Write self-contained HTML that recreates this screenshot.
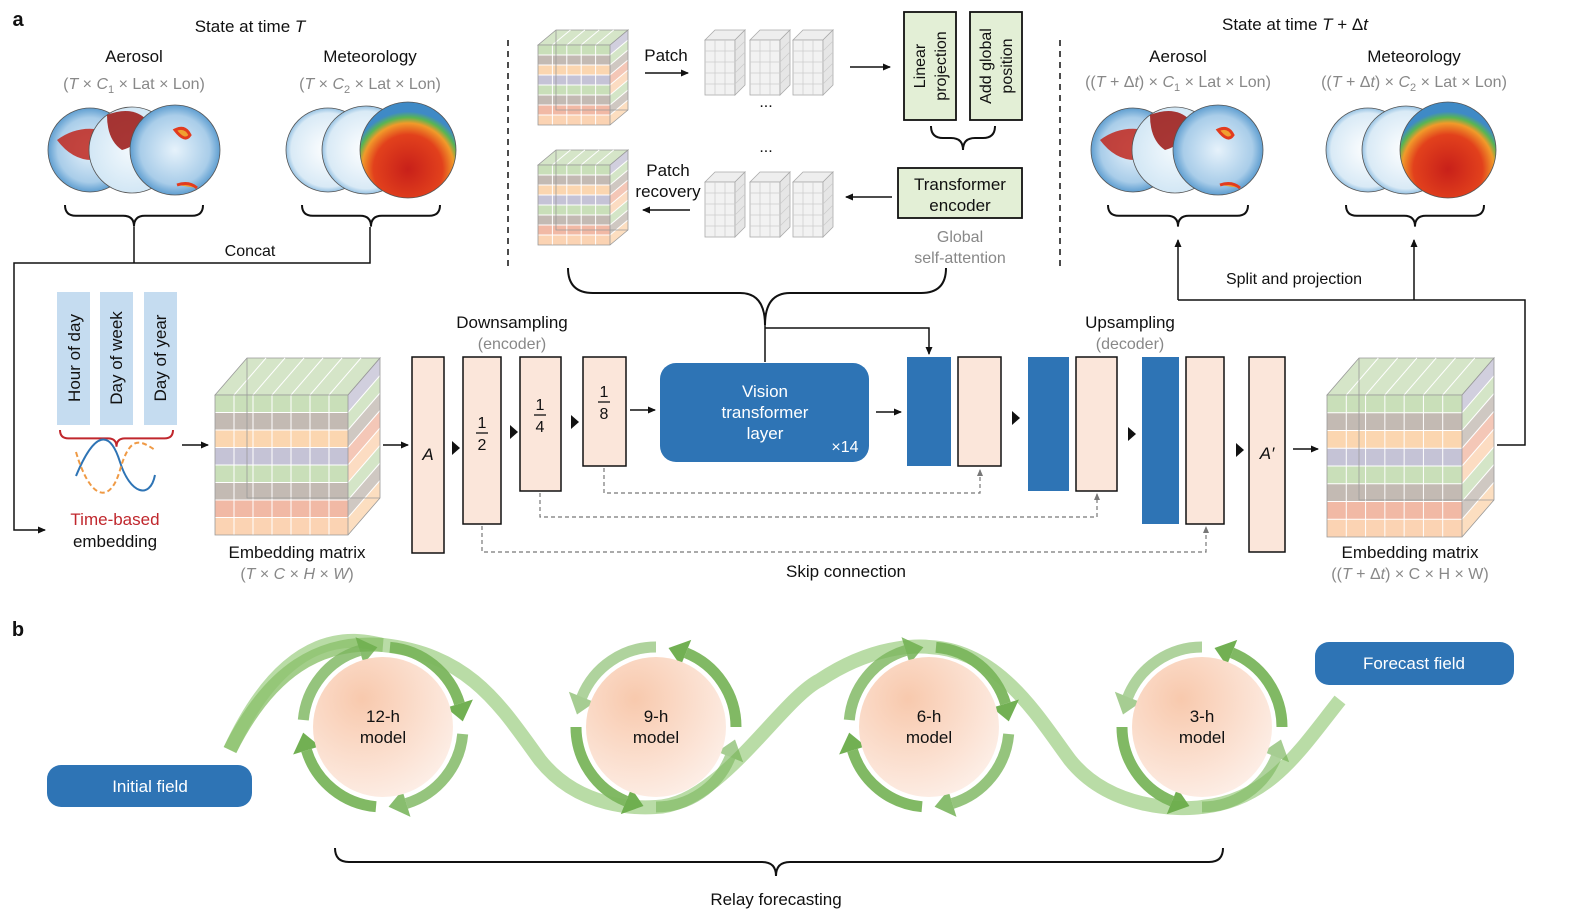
<!DOCTYPE html>
<html><head><meta charset="utf-8"><style>
html,body{margin:0;padding:0;background:#fff}
svg{display:block;font-family:"Liberation Sans",Arial,sans-serif}
</style></head><body>
<svg id="s" width="1571" height="922" viewBox="0 0 1571 922" xmlns="http://www.w3.org/2000/svg">
<defs>
<marker id="ar" markerWidth="8" markerHeight="8" refX="7" refY="4" orient="auto" markerUnits="userSpaceOnUse"><path d="M0,0.5 L8,4 L0,7.5 z" fill="#111"/></marker>
<marker id="arg" markerWidth="7" markerHeight="7" refX="6" refY="3.5" orient="auto" markerUnits="userSpaceOnUse"><path d="M0,0.5 L7,3.5 L0,6.5 z" fill="#777"/></marker>
<radialGradient id="peach" cx="35%" cy="30%" r="75%"><stop offset="0" stop-color="#f8c9ad"/><stop offset="1" stop-color="#fdeee6"/></radialGradient>
<radialGradient id="aer" cx="50%" cy="50%" r="55%"><stop offset="0" stop-color="#e6f2fb"/><stop offset="0.7" stop-color="#a9cde9"/><stop offset="1" stop-color="#3f8ac6"/></radialGradient>
<radialGradient id="aer2" cx="50%" cy="50%" r="55%"><stop offset="0" stop-color="#f3f9fd"/><stop offset="1" stop-color="#cfe5f4"/></radialGradient>
<radialGradient id="met" cx="50%" cy="70%" r="60%"><stop offset="0" stop-color="#c8201a"/><stop offset="0.6" stop-color="#e2411c"/><stop offset="0.8" stop-color="#f19a2a"/><stop offset="0.9" stop-color="#59b552"/><stop offset="1" stop-color="#3f8ac6"/></radialGradient>
<radialGradient id="metw" cx="50%" cy="50%" r="55%"><stop offset="0" stop-color="#ffffff"/><stop offset="0.8" stop-color="#d9eaf6"/><stop offset="1" stop-color="#5c9fd2"/></radialGradient>
</defs>
<g id="g"></g>
</svg>
<script>
const g=document.getElementById('g');let h='';
const T=(x,y,t,o={})=>{h+=`<text x="${x}" y="${y}" font-size="${o.s||16}" fill="${o.c||'#111'}" text-anchor="${o.a||'middle'}" ${o.w?'font-weight="bold"':''} ${o.st?'font-style="italic"':''} ${o.tr?`transform="${o.tr}"`:''}>${t}</text>`};
const L=(d,o={})=>{h+=`<path d="${d}" fill="none" stroke="${o.c||'#111'}" stroke-width="${o.w||1.5}" ${o.da?`stroke-dasharray="${o.da}"`:''} ${o.m?`marker-end="url(#${o.m})"`:''}/>`};
const R=(x,y,w,hh,f,o={})=>{h+=`<rect x="${x}" y="${y}" width="${w}" height="${hh}" rx="${o.rx||0}" fill="${f}" stroke="${o.s||'none'}" stroke-width="${o.sw||1.5}"/>`};
T(18,26,'a',{w:1,s:20});T(18,636,'b',{w:1,s:20});
T(250,32,'State at time <tspan font-style="italic">T</tspan>',{s:17});
T(134,62,'Aerosol',{s:17});T(370,62,'Meteorology',{s:17});
T(134,89,'(<tspan font-style="italic">T</tspan> × <tspan font-style="italic">C</tspan><tspan font-size="11" dy="4">1</tspan><tspan dy="-4"> × Lat × Lon)</tspan>',{s:16,c:'#888'});
T(370,89,'(<tspan font-style="italic">T</tspan> × <tspan font-style="italic">C</tspan><tspan font-size="11" dy="4">2</tspan><tspan dy="-4"> × Lat × Lon)</tspan>',{s:16,c:'#888'});
T(1295,30,'State at time <tspan font-style="italic">T</tspan> + Δ<tspan font-style="italic">t</tspan>',{s:17});
T(1178,62,'Aerosol',{s:17});T(1414,62,'Meteorology',{s:17});
T(1178,87,'((<tspan font-style="italic">T</tspan> + Δ<tspan font-style="italic">t</tspan>) × <tspan font-style="italic">C</tspan><tspan font-size="11" dy="4">1</tspan><tspan dy="-4"> × Lat × Lon)</tspan>',{s:16,c:'#888'});
T(1414,87,'((<tspan font-style="italic">T</tspan> + Δ<tspan font-style="italic">t</tspan>) × <tspan font-style="italic">C</tspan><tspan font-size="11" dy="4">2</tspan><tspan dy="-4"> × Lat × Lon)</tspan>',{s:16,c:'#888'});
function globe(cx,cy,r,f){h+=`<circle cx="${cx}" cy="${cy}" r="${r}" fill="url(#${f})" stroke="#555" stroke-width="0.8"/>`}
function aero(x){globe(x+43,150,42,'aer');h+=`<path d="M${x+10},140 q20,-15 45,-10 q10,20 -10,30 q-20,0 -35,-20z" fill="#c0271d" opacity=".85"/>`;globe(x+85,150,43,'aer2');h+=`<path d="M${x+60},115 q25,-10 40,5 q-5,25 -25,30 q-15,-10 -15,-35z" fill="#9b1410" opacity=".85"/>`;globe(x+128,150,45,'aer');h+=`<path d="M${x+128},130 q10,-5 15,5 q-5,8 -15,-5z M${x+130},185 q12,-4 20,3" stroke="#e23b1e" stroke-width="3" fill="#f0a030"/>`}
function meteo(x){globe(x+40,150,42,'metw');globe(x+78,150,44,'metw');globe(x+120,150,48,'met')}
aero(47);meteo(288);aero(1090);meteo(1328);
function brace(x1,x2,y,d,col,w){const m=(x1+x2)/2;L(`M${x1},${y} q0,${d*0.6} ${d*0.6},${d*0.6} L${m-d*0.6},${y+d*0.6} q${d*0.6},0 ${d*0.6},${d*0.6} q0,${-d*0.6} ${d*0.6},${-d*0.6} L${x2-d*0.6},${y+d*0.6} q${d*0.6},0 ${d*0.6},${-d*0.6}`,{c:col||'#111',w:w||2})}
brace(65,203,205,18);brace(302,440,205,18);
brace(1108,1248,205,18);brace(1346,1484,205,18);
L('M134,227 V263');L('M370,227 V263 H14 V530 H45',{m:'ar'});
T(250,256,'Concat',{s:16});
L('M1178,300 V240',{m:'ar'});L('M1414,300 V240',{m:'ar'});L('M1178,300 H1525 V445 H1497');
T(1294,284,'Split and projection',{s:16});
L('M508,40 V268',{da:'6,5'});L('M1060,40 V268',{da:'6,5'});
const rows=['#c9dfb9','#c3bab3','#fbd6b0','#c5c3d6','#c9dfb9','#c3bab3','#f1b9a5','#fbd3b3'];
function cube(x,y,w,hh,dx,dy,cols){const n=rows.length,rh=hh/n;
 h+=`<path d="M${x},${y} l${dx},${-dy} h${w} l${-dx},${dy}z" fill="#d5e5c8" stroke="#999" stroke-width=".8"/>`;
 for(let i=0;i<n;i++){h+=`<rect x="${x}" y="${y+i*rh}" width="${w}" height="${rh}" fill="${rows[i]}"/>`;
  h+=`<path d="M${x+w},${y+i*rh} l${dx},${-dy} v${rh} l${-dx},${dy}z" fill="${rows[(i+3)%n]}" opacity=".8"/>`;}
 for(let j=1;j<cols;j++){h+=`<path d="M${x+w*j/cols},${y} v${hh} M${x+w*j/cols},${y} l${dx},${-dy}" stroke="#fff" stroke-width="1"/>`;}
 for(let i=1;i<n;i++){h+=`<path d="M${x},${y+i*rh} h${w} l${dx},${-dy}" stroke="#fff" stroke-width="1" fill="none"/>`;}
 h+=`<path d="M${x},${y} h${w} v${hh} h${-w}z M${x+w},${y} l${dx},${-dy} v${hh} l${-dx},${dy} M${x+dx},${y-dy} v${hh} h${w}" fill="none" stroke="#999" stroke-width=".8"/>`;}
cube(215,395,133,140,32,37,7);cube(1327,395,135,142,32,37,7);
cube(538,45,72,80,18,15,5);cube(538,165,72,80,18,15,5);
function wire(x,y){const w=30,hh=55,d=10;h+=`<path d="M${x},${y} l${d},${-d} h${w} l${-d},${d}z" fill="#eee" stroke="#aaa" stroke-width=".8"/><rect x="${x}" y="${y}" width="${w}" height="${hh}" fill="#f2f2f2" stroke="#aaa" stroke-width=".8"/><path d="M${x+w},${y} l${d},${-d} v${hh} l${-d},${d}z" fill="#e6e6e6" stroke="#aaa" stroke-width=".8"/>`;
 for(let i=1;i<5;i++)h+=`<path d="M${x},${y+i*11} h${w} l${d},${-d}" stroke="#ccc" stroke-width=".7" fill="none"/>`;
 for(let j=1;j<3;j++)h+=`<path d="M${x+j*10},${y} v${hh}" stroke="#ccc" stroke-width=".7"/>`;}
[705,750,793].forEach(x=>{wire(x,40);wire(x,182)});
T(766,107,'...',{s:16});T(766,152,'...',{s:16});
T(666,61,'Patch',{s:17});L('M645,73 H688',{m:'ar'});
T(668,176,'Patch',{s:17});T(668,197,'recovery',{s:17});L('M690,210 H643',{m:'ar'});
L('M850,67 H890',{m:'ar'});
R(904,12,52,108,'#e3efd6',{s:'#111',sw:1.8});R(970,12,52,108,'#e3efd6',{s:'#111',sw:1.8});
T(0,0,'Linear',{s:16,tr:'translate(925,66) rotate(-90)'});T(0,0,'projection',{s:16,tr:'translate(946,66) rotate(-90)'});
T(0,0,'Add global',{s:16,tr:'translate(991,66) rotate(-90)'});T(0,0,'position',{s:16,tr:'translate(1012,66) rotate(-90)'});
L('M931,126 q0,12 12,12 h8 q12,0 12,12 q0,-12 12,-12 h8 q12,0 12,-12',{w:2});
R(898,168,124,50,'#e3efd6',{s:'#111',sw:1.8});T(960,190,'Transformer',{s:17});T(960,211,'encoder',{s:17});
L('M892,197 H846',{m:'ar'});
T(960,242,'Global',{s:16,c:'#888'});T(960,263,'self-attention',{s:16,c:'#888'});
L('M568,268 q0,25 25,25 L740,293 q25,0 25,32 q0,-32 25,-32 L921,293 q25,0 25,-25',{w:2});
L('M765,325 V362');L('M765,328 H929 V354',{m:'ar'});
[57,100,144].forEach(x=>R(x,292,33,133,'#c5dcf0'));
T(0,0,'Hour of day',{s:17,tr:'translate(80,358) rotate(-90)'});T(0,0,'Day of week',{s:17,tr:'translate(122,358) rotate(-90)'});T(0,0,'Day of year',{s:17,tr:'translate(166,358) rotate(-90)'});
brace(60,173,430,14,'#c0272d',2);
L('M76,476 C95,430 110,430 120,462 S150,500 155,475',{c:'#2e74b5',w:2});
L('M76,452 C90,500 110,505 120,470 S140,440 155,450',{c:'#ef9a45',w:2,da:'5,3'});
T(115,525,'Time-based',{s:17,c:'#c0272d'});T(115,547,'embedding',{s:17});
L('M182,445 H208',{m:'ar'});
T(297,558,'Embedding matrix',{s:17});T(297,579,'(<tspan font-style="italic">T</tspan> × <tspan font-style="italic">C</tspan> × <tspan font-style="italic">H</tspan> × <tspan font-style="italic">W</tspan>)',{s:16,c:'#888'});
T(1410,558,'Embedding matrix',{s:17});T(1410,579,'((<tspan font-style="italic">T</tspan> + Δ<tspan font-style="italic">t</tspan>) × C × H × W)',{s:16,c:'#888'});
const pe='#fbe6da';
L('M383,445 H408',{m:'ar'});
R(412,357,32,196,pe,{s:'#111'});T(428,460,'<tspan font-style="italic">A</tspan>',{s:17});
R(463,357,38,167,pe,{s:'#111'});R(520,357,41,134,pe,{s:'#111'});R(583,357,43,109,pe,{s:'#111'});
function frac(x,y,d){T(x,y-4,'1',{s:16});L(`M${x-6},${y+1} H${x+6}`,{w:1.3});T(x,y+18,d,{s:16})}
frac(482,432,'2');frac(540,414,'4');frac(604,401,'8');
const tri=(x,y)=>{h+=`<path d="M${x},${y-7} L${x+8},${y} L${x},${y+7}z" fill="#111"/>`};
tri(452,448);tri(510,432);tri(571,422);tri(1012,418);tri(1128,434);tri(1236,450);
L('M630,410 H655',{m:'ar'});
R(660,363,209,99,'#2e74b5',{rx:16});T(765,397,'Vision',{s:17,c:'#fff'});T(765,418,'transformer',{s:17,c:'#fff'});T(765,439,'layer',{s:17,c:'#fff'});T(845,452,'×14',{s:16,c:'#fff'});
L('M876,412 H901',{m:'ar'});
R(907,357,44,109,'#2e74b5');R(958,357,43,109,pe,{s:'#111'});
R(1028,357,41,134,'#2e74b5');R(1076,357,41,134,pe,{s:'#111'});
R(1142,357,37,167,'#2e74b5');R(1186,357,38,167,pe,{s:'#111'});
R(1249,357,36,195,pe,{s:'#111'});T(1267,459,'<tspan font-style="italic">A′</tspan>',{s:17});
L('M1293,449 H1318',{m:'ar'});
L('M604,468 V493 H980 V470',{c:'#777',w:1.2,da:'4,3',m:'arg'});
L('M540,493 V517 H1097 V494',{c:'#777',w:1.2,da:'4,3',m:'arg'});
L('M482,526 V552 H1206 V527',{c:'#777',w:1.2,da:'4,3',m:'arg'});
T(512,328,'Downsampling',{s:17});T(512,349,'(encoder)',{s:16,c:'#888'});
T(1130,328,'Upsampling',{s:17});T(1130,349,'(decoder)',{s:16,c:'#888'});
T(846,577,'Skip connection',{s:17});
L('M230,750 C290,620 360,640 383,645 C470,655 500,705 540,760 C580,810 640,808 656,807 C720,805 780,700 820,680 C880,640 929,647 929,647 C1000,650 1040,720 1070,760 C1110,810 1180,810 1202,807 C1270,800 1300,750 1340,700',{c:'#b9dca6',w:14});
h+=`<path d="M230,750 C270,670 320,640 383,645" fill="none" stroke="#8cc26d" stroke-width="14" opacity=".8"/>`;
const P=(cx,cy,r,a)=>[cx+r*Math.cos(a*Math.PI/180),cy+r*Math.sin(a*Math.PI/180)];
function arcArrow(cx,cy,r,a0,a1,op){const dir=a1>a0?1:-1;const [x0,y0]=P(cx,cy,r,a0),[x1,y1]=P(cx,cy,r,a1);
 h+=`<path d="M${x0},${y0} A${r},${r} 0 0 ${dir>0?1:0} ${x1},${y1}" fill="none" stroke="#7ab55c" stroke-width="11" opacity="${op}"/>`;
 const t=P(cx,cy,r,a1+dir*13),b1=P(cx,cy,r-14,a1),b2=P(cx,cy,r+14,a1);
 h+=`<path d="M${t} L${b1} L${b2}z" fill="#6aac4a" opacity="${op}"/>`;}
[[383,1],[656,-1],[929,1],[1202,-1]].forEach(([cx,d],k)=>{
 const cy=727;
 for(let i=0;i<4;i++){const s=-175+i*90;if(d>0)arcArrow(cx,cy,80,s,s+68,i%2?0.95:0.8);else arcArrow(cx,cy,80,-s+5,-s-63,i%2?0.6:0.95);}
 h+=`<circle cx="${cx}" cy="${cy}" r="70" fill="url(#peach)"/>`;
 const lbl=['12-h','9-h','6-h','3-h'][k];T(cx,cy-5,lbl,{s:17});T(cx,cy+16,'model',{s:17});});
R(47,765,205,42,'#2e74b5',{rx:14});T(150,792,'Initial field',{s:17,c:'#fff'});
R(1315,642,199,43,'#2e74b5',{rx:14});T(1414,669,'Forecast field',{s:17,c:'#fff'});
L('M335,848 q0,14 14,14 L762,862 q14,0 14,14 q0,-14 14,-14 L1209,862 q14,0 14,-14',{w:2});
T(776,905,'Relay forecasting',{s:17});
g.innerHTML=h;
</script>
</body></html>
